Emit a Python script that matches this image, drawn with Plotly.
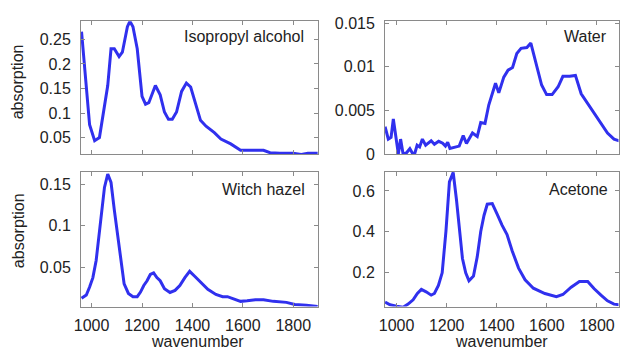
import plotly.graph_objects as go

# ---------------- data ----------------
ipa_x = [960, 992, 1012, 1031, 1064, 1077, 1090, 1109, 1122, 1142, 1152, 1164, 1181, 1200, 1214, 1227,
         1253, 1272, 1289, 1305, 1320, 1337, 1357, 1376, 1393, 1411, 1432, 1454, 1487, 1513, 1552,
         1591, 1643, 1682, 1708, 1747, 1799, 1832, 1858, 1897]
ipa_y = [0.266, 0.076, 0.0435, 0.05, 0.156, 0.231, 0.231, 0.215, 0.224, 0.276, 0.287, 0.276, 0.231,
         0.134, 0.118, 0.121, 0.156, 0.137, 0.102, 0.087, 0.087, 0.102, 0.144, 0.161, 0.153, 0.121,
         0.085, 0.073, 0.060, 0.047, 0.037, 0.024, 0.024, 0.024, 0.019, 0.0177, 0.0177, 0.0155,
         0.0177, 0.0177]

water_x = [954, 967, 978, 987, 1007, 1016, 1026, 1039, 1053, 1063, 1072, 1082, 1092, 1103, 1116, 1138,
           1151, 1168, 1184, 1195, 1204, 1213, 1250, 1266, 1279, 1303, 1322, 1336, 1353, 1368, 1395,
           1408, 1428, 1445, 1463, 1480, 1497, 1520, 1536, 1555, 1579, 1599, 1621, 1645, 1664, 1691,
           1714, 1737, 1763, 1803, 1842, 1868, 1889]
water_y = [0.00312, 0.0017, 0.0019, 0.0040, 0.0, 0.0017, 0.0, 0.0001, 0.0006, 0.0001, 0.0, 0.001,
           0.0008, 0.0017, 0.001, 0.0015, 0.0011, 0.00145, 0.00124, 0.0009, 0.00135, 0.00064, 0.0009,
           0.0021, 0.0012, 0.0024, 0.0020, 0.0036, 0.0035, 0.0056, 0.0081, 0.0070, 0.0088, 0.0096,
           0.0099, 0.0115, 0.0121, 0.0122, 0.0127, 0.0106, 0.0079, 0.0068, 0.0068, 0.0077, 0.0089,
           0.0089, 0.0090, 0.0069, 0.0058, 0.0040, 0.0024, 0.0017, 0.0015]

witch_x = [960, 979, 992, 1005, 1018, 1029, 1038, 1051, 1064, 1077, 1090, 1103, 1116, 1129, 1146,
           1164, 1181, 1194, 1207, 1220, 1233, 1246, 1259, 1272, 1289, 1311, 1331, 1350, 1370, 1389,
           1409, 1432, 1461, 1493, 1520, 1539, 1565, 1591, 1617, 1650, 1682, 1721, 1773, 1806, 1852, 1897]
witch_y = [0.0126, 0.0164, 0.026, 0.0374, 0.058, 0.089, 0.1156, 0.146, 0.162, 0.152, 0.119, 0.087,
           0.0546, 0.0298, 0.0183, 0.0145, 0.0145, 0.020, 0.0279, 0.0336, 0.0412, 0.0431, 0.0374,
           0.0336, 0.024, 0.0195, 0.022, 0.0279, 0.0374, 0.045, 0.039, 0.032, 0.0233, 0.0172, 0.0145,
           0.0145, 0.0118, 0.0088, 0.0095, 0.0107, 0.0107, 0.0088, 0.0076, 0.005, 0.0042, 0.0027]

acet_x = [954, 974, 1000, 1026, 1046, 1066, 1083, 1099, 1118, 1138, 1151, 1167, 1182, 1197, 1211, 1226,
          1239, 1253, 1263, 1276, 1289, 1307, 1322, 1336, 1349, 1362, 1382, 1401, 1421, 1441, 1461,
          1487, 1513, 1546, 1592, 1638, 1664, 1697, 1730, 1763, 1789, 1816, 1842, 1868, 1889]
acet_y = [0.057, 0.044, 0.037, 0.032, 0.047, 0.068, 0.099, 0.119, 0.107, 0.091, 0.099, 0.138, 0.200,
          0.402, 0.644, 0.69, 0.558, 0.402, 0.27, 0.20, 0.161, 0.184, 0.278, 0.402, 0.48, 0.535, 0.538,
          0.488, 0.433, 0.387, 0.309, 0.223, 0.166, 0.125, 0.099, 0.083, 0.094, 0.13, 0.158, 0.158,
          0.122, 0.091, 0.063, 0.047, 0.044]

names = ["Isopropyl alcohol", "Water", "Witch hazel", "Acetone"]
x_ticks = [1000, 1200, 1400, 1600, 1800]

# ---------------- figure ----------------
W, H = 620, 349
BLUE = "#3030ee"
AX = "#8a8a8a"
TXT = "#222222"
FONT = "Liberation Sans, Arial, sans-serif"
FS = 16

def px_x(p):
    return p / W

def px_y(p):
    return 1 - p / H

fig = go.Figure()

panels = [
    (ipa_x, ipa_y, "x", "y", (75, 315), (15, 154), [958, 1898], [0.0165, 0.287],
     [0.05, 0.1, 0.15, 0.2, 0.25], ["0.05", "0.1", "0.15", "0.2", "0.25"], False),
    (water_x, water_y, "x2", "y2", (383, 619.5), (15, 154), [954, 1886], [0, 0.0152],
     [0, 0.005, 0.01, 0.015], ["0", "0.005", "0.01", "0.015"], False),
    (witch_x, witch_y, "x3", "y3", (75, 315), (173, 314), [958, 1898], [0.0025, 0.1645],
     [0.05, 0.1, 0.15], ["0.05", "0.1", "0.15"], True),
    (acet_x, acet_y, "x4", "y4", (383, 619.5), (173, 314), [954, 1886], [0.035, 0.692],
     [0.2, 0.4, 0.6], ["0.2", "0.4", "0.6"], True),
]

layout = dict(
    width=W, height=H,
    margin=dict(l=0, r=0, t=0, b=0),
    paper_bgcolor="white", plot_bgcolor="white",
    showlegend=False,
    font=dict(family=FONT, size=FS, color=TXT),
)

for i, (xs, ys, xa, ya, xd, yd, xr, yr, yt, ytt, showx) in enumerate(panels):
    fig.add_trace(go.Scatter(x=xs, y=ys, mode="lines", xaxis=xa, yaxis=ya,
                             line=dict(color=BLUE, width=3), hoverinfo="skip"))
    xkey = "xaxis" + ("" if xa == "x" else xa[1:])
    ykey = "yaxis" + ("" if ya == "y" else ya[1:])
    layout[xkey] = dict(
        domain=[px_x(xd[0]), px_x(xd[1])], range=xr, anchor=ya,
        tickvals=x_ticks, ticktext=[str(v) for v in x_ticks],
        showticklabels=showx,
        ticks="inside", ticklen=4, tickcolor=AX, tickwidth=1,
        showline=True, linecolor=AX, linewidth=1, mirror="ticks",
        showgrid=False, zeroline=False,
        tickfont=dict(family=FONT, size=FS, color=TXT),
        ticklabelstandoff=4,
    )
    layout[ykey] = dict(
        domain=[px_y(yd[1]), px_y(yd[0])], range=yr, anchor=xa,
        tickvals=yt, ticktext=ytt,
        ticks="inside", ticklen=4, tickcolor=AX, tickwidth=1,
        showline=True, linecolor=AX, linewidth=1, mirror="ticks",
        showgrid=False, zeroline=False,
        tickfont=dict(family=FONT, size=FS, color=TXT),
        ticklabelstandoff=6,
    )

fig.update_layout(**layout)

annotations = [
    dict(text=names[0], x=303, y=31),
    dict(text=names[1], x=610, y=31),
    dict(text=names[2], x=304, y=191),
    dict(text=names[3], x=611, y=191),
]
for a in annotations:
    fig.add_annotation(text=a["text"], xref="paper", yref="paper",
                       x=px_x(a["x"]), y=px_y(a["y"]), xanchor="right", yanchor="middle",
                       showarrow=False, font=dict(family=FONT, size=FS, color=TXT))

# axis titles
for yy in (78, 234):
    fig.add_annotation(text="absorption", xref="paper", yref="paper", x=px_x(11), y=px_y(yy),
                       textangle=-90, showarrow=False, xanchor="center", yanchor="middle",
                       font=dict(family=FONT, size=FS, color=TXT))
for xx in (193, 501):
    fig.add_annotation(text="wavenumber", xref="paper", yref="paper", x=px_x(xx), y=px_y(340),
                       showarrow=False, xanchor="center", yanchor="top",
                       font=dict(family=FONT, size=FS, color=TXT))

fig.write_html("out.html", config={"displayModeBar": False},
               post_script="document.body.style.margin='0';document.body.style.overflow='hidden';")
